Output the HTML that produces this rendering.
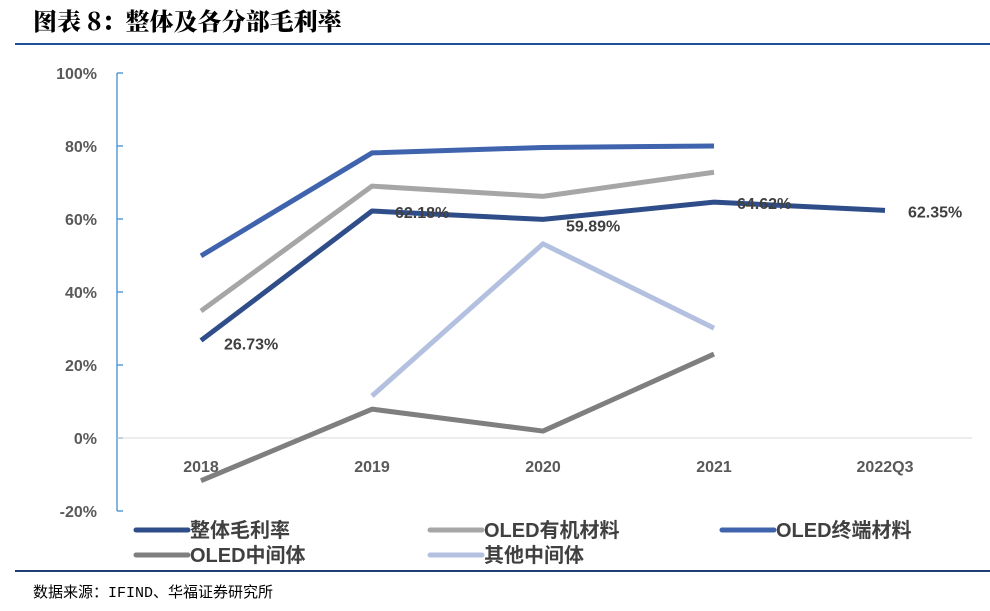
<!DOCTYPE html>
<html><head><meta charset="utf-8"><style>
body{margin:0;width:990px;height:611px;background:#fff;overflow:hidden;font-family:"Liberation Sans","Noto Sans CJK SC",sans-serif}
</style></head><body>
<div style="position:absolute;left:33px;top:2px;font-family:'Noto Serif CJK SC','Noto Sans CJK SC',serif;font-weight:900;font-size:24px;color:#000">图表 8：整体及各分部毛利率</div>
<div style="position:absolute;left:15px;top:43px;width:975px;height:2px;background:#1f4e9a"></div>
<div style="position:absolute;left:15px;top:570px;width:975px;height:2px;background:#1f3e74"></div>
<div style="position:absolute;left:33px;top:581px;font-family:'Liberation Mono','Noto Sans CJK SC',monospace;font-size:15px;color:#000">数据来源：IFIND、华福证券研究所</div>
<svg id="c" width="990" height="611" style="position:absolute;left:0;top:0"></svg>
<script>
const categories=["2018","2019","2020","2021","2022Q3"];
const overall=[26.73,62.18,59.89,64.62,62.35];
const oledMaterial=[34.8,69.0,66.2,72.8,null];
const oledTerminal=[49.9,78.1,79.6,80.0,null];
const oledIntermediate=[-11.7,7.9,1.9,23.0,null];
const otherIntermediate=[null,11.5,53.2,30.1,null];
const yTicks=[-20,0,20,40,60,80,100];
const overallLabels=["26.73%","62.18%","59.89%","64.62%","62.35%"];
const NS="http://www.w3.org/2000/svg";
const svg=document.getElementById('c');
const x=i=>201+i*171;
const y=v=>438-v*3.65;
function mk(t,a){const e=document.createElementNS(NS,t);for(const k in a)e.setAttribute(k,a[k]);svg.appendChild(e);return e;}
let ax=mk('line',{x1:117,y1:73,x2:117,y2:511,stroke:'#5b9bd5','stroke-width':1.5});


yTicks.forEach(v=>{
 const tk=mk('line',{x1:117,x2:123,y1:y(v),y2:y(v),stroke:'#5b9bd5','stroke-width':1.5});
 
 
 const t=mk('text',{x:97,y:y(v)+6,'text-anchor':'end','font-size':16,'font-weight':'bold',fill:'#595959'});
 t.textContent=v+'%';
 
 
});
const zl=mk('line',{x1:117,x2:972,y1:y(0),y2:y(0),stroke:'#d9d9d9','stroke-width':1});


categories.forEach((c,i)=>{
 const t=mk('text',{x:x(i),y:472,'text-anchor':'middle','font-size':16,'font-weight':'bold',fill:'#595959'});
 t.textContent=c;
 
 
});
function series(d,col,name){
 let p='';d.forEach((v,i)=>{if(v==null)return;p+=(p?'L':'M')+x(i)+' '+y(v);});
 const e=mk('path',{d:p,fill:'none',stroke:col,'stroke-width':5,'stroke-linejoin':'round'});
 
 
}
series(otherIntermediate,'#b4c0e0','other-intermediate-line');
series(oledIntermediate,'#7f7f7f','oled-intermediate-line');
series(oledMaterial,'#a6a6a6','oled-material-line');
series(oledTerminal,'#3f64ad','oled-terminal-line');
series(overall,'#2f4d89','overall-margin-line');
overall.forEach((v,i)=>{
 const t=mk('text',{x:x(i)+23,y:i==0?y(v)+9:(i==2?y(v)+12:y(v)+7),'font-size':16,'font-weight':'bold',fill:'#404040'});
 t.textContent=overallLabels[i];
 
 
});
const leg=[["整体毛利率",'#2f4d89',134,530],["OLED有机材料",'#a6a6a6',428,530],["OLED终端材料",'#3f64ad',720,530],["OLED中间体",'#7f7f7f',134,555],["其他中间体",'#b4c0e0',428,555]];
leg.forEach(l=>{
 const ln=mk('line',{x1:l[0]?l[2]+2:0,x2:l[2]+54,y1:l[3],y2:l[3],stroke:l[1],'stroke-width':5,'stroke-linecap':'round'});
 
 
 const t=mk('text',{x:l[2]+56,y:l[3]+7,'font-size':20,'font-weight':'bold',fill:'#404040'});
 t.textContent=l[0];
 
 
});
</script>
</body></html>
